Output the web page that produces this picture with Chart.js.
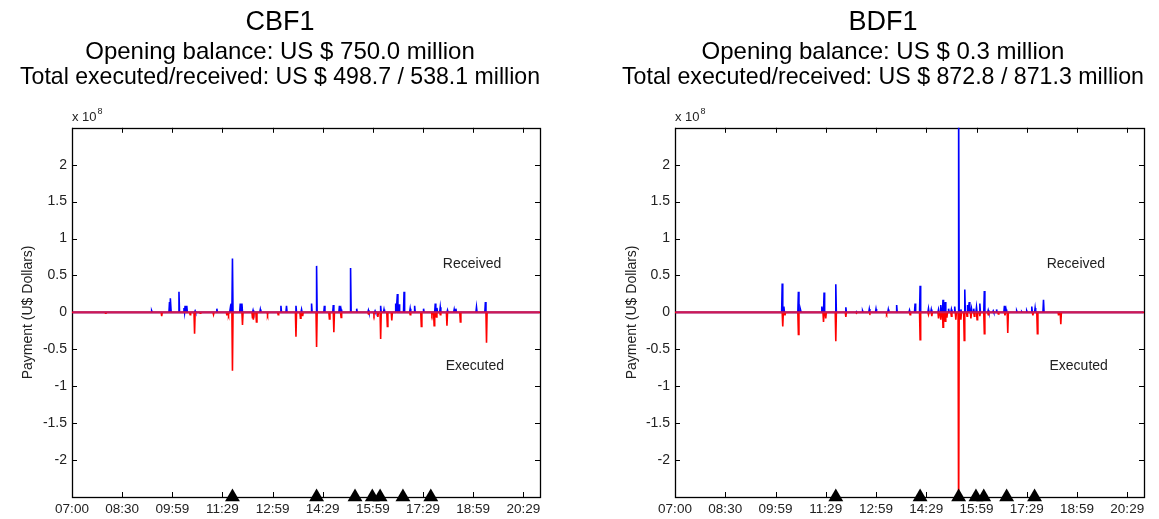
<!DOCTYPE html>
<html lang="en">
<head>
    <meta charset="UTF-8">
    <script src="https://cdn.jsdelivr.net/npm/chart.js@4.4.1/dist/chart.umd.min.js"></script>
    <title>CBF1 / BDF1 payments</title>
    <style>
        body { margin: 0; background: #fff; }
        .panel { position: absolute; top: 0; }
    </style>
</head>
<body>
    <div class="panel" style="left:0px"><canvas id="cbf" width="580" height="519"></canvas></div>
    <div class="panel" style="left:580px"><canvas id="bdf" width="579" height="519"></canvas></div>
    <script>

        // x values are minutes after 07:00, y values are in units of 10^8 US$
        var xTickValues = [0, 90, 180, 270, 360, 450, 540, 630, 720, 810];
        var xTickLabels = ['07:00', '08:30', '09:59', '11:29', '12:59', '14:29', '15:59', '17:29', '18:59', '20:29'];
        var yTickValues = [-2.5, -2, -1.5, -1, -0.5, 0, 0.5, 1, 1.5, 2, 2.5];

        // settlement markers (triangles on the time axis)
        var markerTimes = [288, 439, 508, 539, 553, 594, 644];

        // CBF1
        var cbfReceivedTimes = [143, 175, 177, 192, 201, 203, 206, 221, 260, 284, 286, 288, 302, 305, 325, 338, 375, 385, 402, 412,
            430, 439, 453, 469, 480, 483, 500, 511, 532, 544, 554, 560, 581, 584, 587, 596, 607, 615, 631, 652,
            655, 661, 674, 686, 689, 726, 742];
        var cbfReceived = [0.02, 0.14, 0.19, 0.28, 0.06, 0.09, 0.09, 0.02, 0.05, 0.05, 0.12, 0.73, 0.12, 0.12, 0.03, 0.04, 0.09, 0.09, 0.09, 0.04,
            0.12, 0.63, 0.09, 0.10, 0.09, 0.04, 0.60, 0.05, 0.03, 0.02, 0.09, 0.04, 0.12, 0.25, 0.11, 0.28, 0.05, 0.09, 0.05, 0.12,
            0.06, 0.07, 0.03, 0.04, 0.05, 0.07, 0.14];
        var cbfExecutedTimes = [60, 161, 212, 220, 230, 254, 278, 281, 288, 306, 324, 326, 331, 351, 370, 402, 410, 414, 439, 462,
            470, 483, 532, 542, 549, 554, 566, 574, 607, 627, 646, 650, 654, 661, 673, 697, 744];
        var cbfExecuted = [-0.01, -0.05, -0.03, -0.29, -0.01, -0.03, -0.04, -0.03, -0.79, -0.17, -0.08, -0.10, -0.13, -0.03, -0.03, -0.33, -0.08, -0.05, -0.47, -0.09,
            -0.27, -0.07, -0.02, -0.03, -0.06, -0.36, -0.19, -0.11, -0.03, -0.19, -0.03, -0.18, -0.06, -0.03, -0.18, -0.13, -0.41];

        // BDF1
        var bdfReceivedTimes = [192, 195, 221, 225, 263, 267, 288, 306, 325, 336, 348, 360, 382, 397, 420, 430, 439, 454, 459, 472,
            476, 480, 484, 490, 495, 501, 508, 512, 519, 524, 527, 531, 535, 540, 546, 554, 561, 570, 576, 590,
            593, 612, 621, 630, 639, 645, 660];
        var bdfReceived = [0.39, 0.08, 0.28, 0.03, 0.08, 0.27, 0.38, 0.07, 0.01, 0.02, 0.045, 0.045, 0.04, 0.10, 0.03, 0.12, 0.36, 0.05, 0.04, 0.04,
            0.10, 0.17, 0.14, 0.05, 0.04, 0.08, 3.0, 0.04, 0.31, 0.10, 0.14, 0.05, 0.05, 0.07, 0.12, 0.29, 0.03, 0.02, 0.04, 0.09,
            0.04, 0.02, 0.01, 0.02, 0.08, 0.06, 0.17];
        var bdfExecutedTimes = [193, 197, 221, 266, 270, 288, 306, 325, 349, 379, 421, 439, 454, 460, 472, 476, 480, 484, 487, 495,
            503, 508, 512, 518, 523, 530, 536, 541, 546, 554, 561, 579, 591, 596, 641, 649, 687, 691];
        var bdfExecuted = [-0.19, -0.04, -0.30, -0.13, -0.08, -0.39, -0.06, -0.01, -0.01, -0.02, -0.03, -0.37, -0.03, -0.05, -0.08, -0.10, -0.20, -0.12, -0.07, -0.05,
            -0.10, -3.0, -0.10, -0.38, -0.05, -0.08, -0.05, -0.10, -0.05, -0.29, -0.03, -0.02, -0.04, -0.28, -0.04, -0.29, -0.04, -0.16];

        var FONT = "'Liberation Sans', Arial, sans-serif";

        // every payment is a spike that rises from zero and drops back
        function spikes(times, values)
        {
            var pts = [{x: 0, y: 0}];
            for (var i = 0; i < times.length; i++) {
                pts.push({x: times[i] - 1, y: 0}, {x: times[i], y: values[i]}, {x: times[i] + 1, y: 0});
            }
            pts.push({x: 840, y: 0});
            return pts;
        }

        // box, inward ticks, "x 10^8" and the Received / Executed notes
        var framePlugin = {
            id: 'frame',
            beforeDatasetsDraw(chart) {
                var ctx = chart.ctx, a = chart.chartArea;
                var xs = chart.scales.x, ys = chart.scales.y;
                ctx.save();
                ctx.strokeStyle = '#000';
                ctx.lineWidth = 1;
                ctx.beginPath();
                xTickValues.forEach(function (v) {
                    var px = Math.round(xs.getPixelForValue(v)) + 0.5;
                    ctx.moveTo(px, a.bottom); ctx.lineTo(px, a.bottom - 5);
                    ctx.moveTo(px, a.top); ctx.lineTo(px, a.top + 5);
                });
                yTickValues.forEach(function (v) {
                    var py = Math.round(ys.getPixelForValue(v)) + 0.5;
                    ctx.moveTo(a.left, py); ctx.lineTo(a.left + 5, py);
                    ctx.moveTo(a.right, py); ctx.lineTo(a.right - 5, py);
                });
                ctx.stroke();
                ctx.lineWidth = 1.3;
                ctx.strokeRect(Math.round(a.left) + 0.5, Math.round(a.top) + 0.5, Math.round(a.right - a.left), Math.round(a.bottom - a.top));
                ctx.restore();
            },
            afterDatasetsDraw(chart) {
                // where both series sit on zero the two colours blend
                var ctx = chart.ctx, a = chart.chartArea;
                var y0 = chart.scales.y.getPixelForValue(0);
                ctx.save();
                ctx.strokeStyle = 'rgb(205, 25, 85)';
                ctx.lineWidth = 1.6;
                ctx.beginPath();
                ctx.moveTo(a.left + 1, y0);
                ctx.lineTo(a.right - 1, y0);
                ctx.stroke();
                ctx.restore();
            },
            afterDraw(chart) {
                var ctx = chart.ctx, a = chart.chartArea;
                var xs = chart.scales.x, ys = chart.scales.y;
                ctx.save();
                ctx.fillStyle = '#222';
                ctx.textBaseline = 'alphabetic';
                ctx.textAlign = 'left';
                ctx.font = '13px ' + FONT;
                ctx.fillText('x 10', a.left, a.top - 7);
                var w = ctx.measureText('x 10').width;
                ctx.font = '9px ' + FONT;
                ctx.fillText('8', a.left + w + 1, a.top - 14);
                ctx.font = '14px ' + FONT;
                ctx.textAlign = 'center';
                ctx.textBaseline = 'middle';
                ctx.fillText('Received', xs.getPixelForValue(718), ys.getPixelForValue(0.655));
                ctx.fillText('Executed', xs.getPixelForValue(723), ys.getPixelForValue(-0.725));
                ctx.restore();
            }
        };

        function chartIt(id, name, lines, recvT, recvV, execT, execV, pad, yTitlePad)
        {
            var ctx = document.getElementById(id).getContext('2d');
            return new Chart(ctx, {
                type: 'line',
                data: {
                    datasets: [{
                        label: 'Markers',
                        data: markerTimes.map(function (t) { return {x: t, y: -2.5}; }),
                        showLine: false,
                        pointStyle: 'triangle',
                        pointRadius: 8.6,
                        pointBackgroundColor: '#000',
                        pointBorderColor: '#000',
                        pointBorderWidth: 0,
                        clip: false
                    }, {
                        label: 'Executed',
                        data: spikes(execT, execV),
                        borderColor: '#ff0000',
                        borderWidth: 1.6,
                        pointRadius: 0,
                        tension: 0
                    }, {
                        label: 'Received',
                        data: spikes(recvT, recvV),
                        borderColor: '#0000ff',
                        borderWidth: 1.6,
                        pointRadius: 0,
                        tension: 0
                    }]
                },
                options: {
                    responsive: false,
                    devicePixelRatio: 1,
                    animation: false,
                    events: [],
                    layout: { padding: pad },
                    plugins: {
                        legend: { display: false },
                        tooltip: { enabled: false },
                        title: {
                            display: true,
                            text: name,
                            color: '#000',
                            font: { family: FONT, size: 27, weight: 'normal', lineHeight: 1.2 },
                            padding: { top: 6, bottom: 1 }
                        },
                        subtitle: {
                            display: true,
                            text: lines,
                            color: '#000',
                            font: { family: FONT, size: 24, weight: 'normal', lineHeight: 1.05 },
                            padding: { top: 0, bottom: 38 }
                        }
                    },
                    scales: {
                        x: {
                            type: 'linear',
                            min: 0,
                            max: 840,
                            grid: { display: false, drawTicks: false },
                            border: { display: false },
                            afterBuildTicks: function (s) { s.ticks = xTickValues.map(function (v) { return {value: v}; }); },
                            afterFit: function (s) { s.height = 22; },
                            ticks: {
                                autoSkip: false,
                                maxRotation: 0,
                                padding: 4,
                                color: '#222',
                                font: { family: FONT, size: 13.5 },
                                callback: function (v) { return xTickLabels[xTickValues.indexOf(v)]; }
                            }
                        },
                        y: {
                            min: -2.5,
                            max: 2.5,
                            grid: { display: false, drawTicks: false },
                            border: { display: false },
                            afterBuildTicks: function (s) { s.ticks = yTickValues.map(function (v) { return {value: v}; }); },
                            afterFit: function (s) { s.width = pad.left === 20 ? 52 : 53; },
                            ticks: {
                                padding: 5,
                                color: '#222',
                                font: { family: FONT, size: 14 },
                                callback: function (v) { return Math.abs(v) > 2.25 ? '' : String(v); }
                            },
                            title: {
                                display: true,
                                text: 'Payment (U$ Dollars)',
                                color: '#222',
                                font: { family: FONT, size: 14 },
                                padding: { top: yTitlePad, bottom: 0 }
                            }
                        }
                    }
                },
                plugins: [framePlugin]
            });
        }

        chartIt('cbf', 'CBF1',
            ['Opening balance: US $ 750.0 million', 'Total executed/received: US $ 498.7 / 538.1 million'],
            cbfReceivedTimes, cbfReceived, cbfExecutedTimes, cbfExecuted,
            { left: 20, right: 40, top: 0, bottom: 0 }, 0);

        chartIt('bdf', 'BDF1',
            ['Opening balance: US $ 0.3 million', 'Total executed/received: US $ 872.8 / 871.3 million'],
            bdfReceivedTimes, bdfReceived, bdfExecutedTimes, bdfExecuted,
            { left: 42, right: 15, top: 0, bottom: 0 }, 1.6);
    </script>
</body>
</html>
